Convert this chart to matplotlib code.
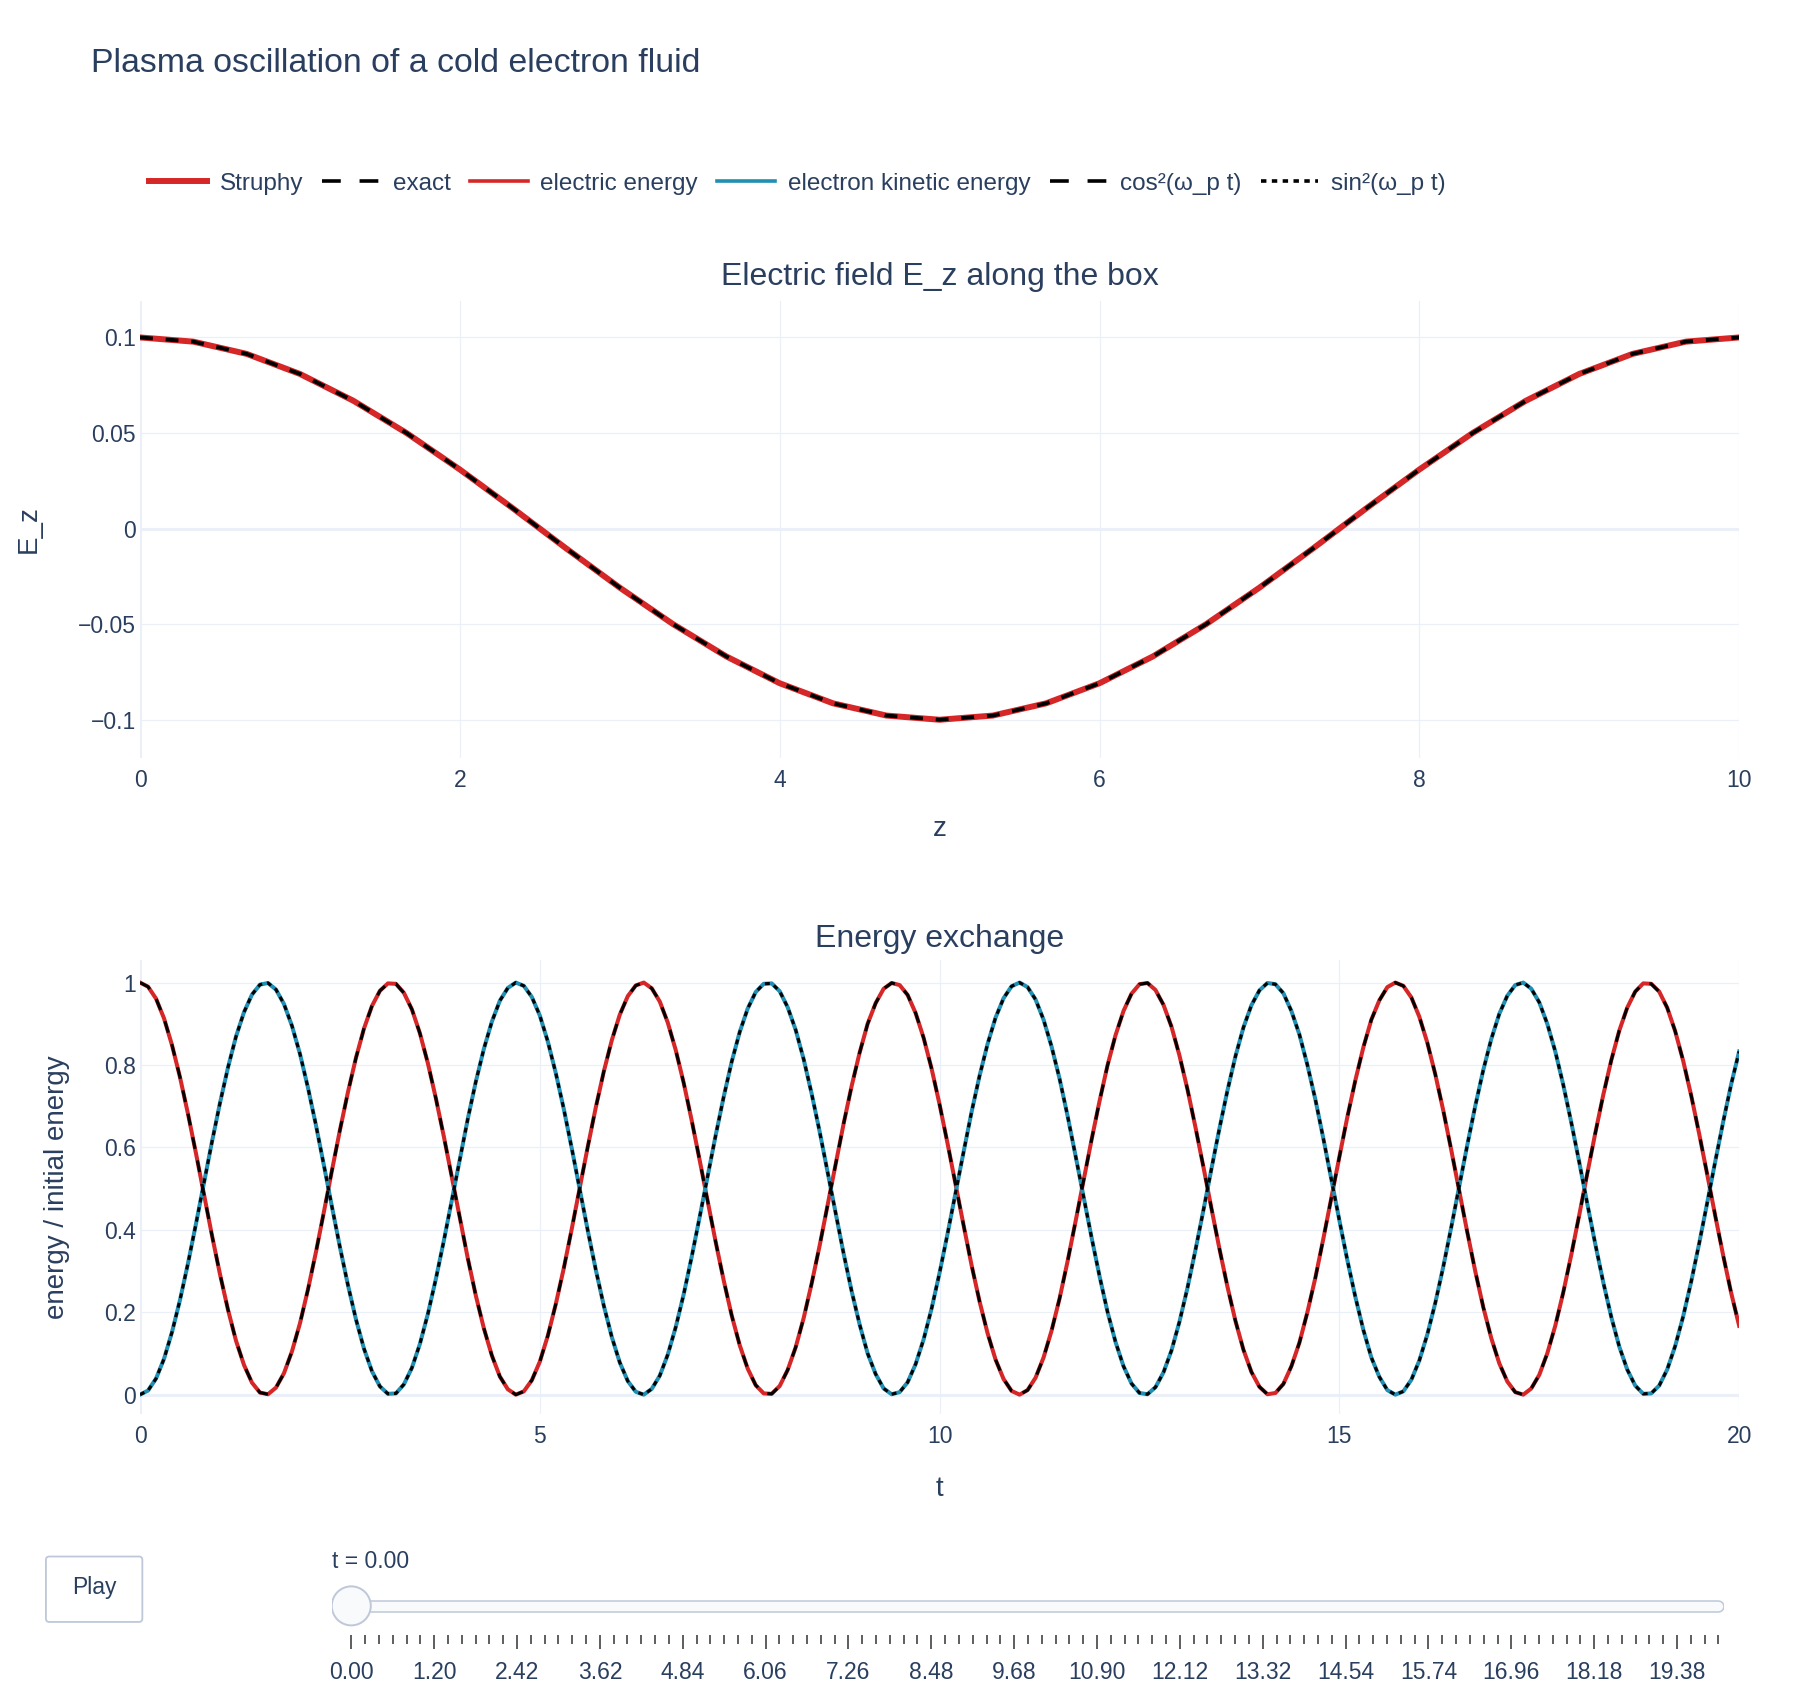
import numpy as np
import matplotlib.pyplot as plt
from matplotlib.lines import Line2D
from matplotlib.patches import FancyBboxPatch, Ellipse

plt.rcParams['font.family'] = ['Liberation Sans', 'DejaVu Sans']

# ---- data ----
z = np.linspace(0, 10, 31)
ez_struphy = [0.1, 0.0978, 0.0914, 0.0809, 0.0669, 0.05, 0.0309, 0.0105, -0.0105, -0.0309,
              -0.05, -0.0669, -0.0809, -0.0914, -0.0978, -0.1, -0.0978, -0.0914, -0.0809, -0.0669,
              -0.05, -0.0309, -0.0105, 0.0105, 0.0309, 0.05, 0.0669, 0.0809, 0.0914, 0.0978, 0.1]
ez_exact = ez_struphy

t = np.linspace(0, 20, 201)
e_electric = [
    1.000, 0.990, 0.961, 0.913, 0.848, 0.770, 0.681, 0.585, 0.485, 0.386,
    0.292, 0.206, 0.131, 0.072, 0.029, 0.005, 0.001, 0.017, 0.052, 0.105,
    0.173, 0.255, 0.346, 0.444, 0.544, 0.642, 0.734, 0.817, 0.888, 0.943,
    0.980, 0.998, 0.997, 0.975, 0.935, 0.877, 0.804, 0.719, 0.626, 0.527,
    0.427, 0.330, 0.240, 0.161, 0.095, 0.044, 0.013, 0.000, 0.008, 0.035,
    0.080, 0.143, 0.220, 0.307, 0.403, 0.502, 0.602, 0.697, 0.784, 0.860,
    0.922, 0.967, 0.993, 1.000, 0.986, 0.954, 0.903, 0.836, 0.756, 0.665,
    0.568, 0.469, 0.370, 0.277, 0.192, 0.120, 0.063, 0.023, 0.003, 0.002,
    0.021, 0.060, 0.115, 0.186, 0.270, 0.362, 0.461, 0.560, 0.658, 0.749,
    0.830, 0.900, 0.950, 0.985, 0.999, 0.994, 0.970, 0.926, 0.866, 0.791,
    0.704, 0.609, 0.510, 0.411, 0.314, 0.226, 0.149, 0.085, 0.038, 0.009,
    0.000, 0.011, 0.041, 0.090, 0.155, 0.233, 0.323, 0.420, 0.519, 0.618,
    0.712, 0.799, 0.872, 0.931, 0.973, 0.996, 0.999, 0.982, 0.946, 0.893,
    0.823, 0.741, 0.649, 0.552, 0.452, 0.354, 0.262, 0.179, 0.109, 0.055,
    0.019, 0.001, 0.004, 0.026, 0.069, 0.126, 0.200, 0.284, 0.379, 0.478,
    0.577, 0.674, 0.763, 0.843, 0.910, 0.957, 0.989, 1.000, 0.992, 0.964,
    0.917, 0.854, 0.777, 0.689, 0.593, 0.493, 0.394, 0.299, 0.212, 0.137,
    0.076, 0.032, 0.006, 0.000, 0.015, 0.048, 0.100, 0.167, 0.248, 0.339,
    0.436, 0.536, 0.634, 0.727, 0.811, 0.883, 0.939, 0.978, 0.998, 0.997,
    0.978, 0.939, 0.882, 0.810, 0.726, 0.633, 0.535, 0.435, 0.338, 0.247,
    0.167]
e_kinetic = [
    0.000, 0.010, 0.039, 0.087, 0.152, 0.230, 0.319, 0.415, 0.515, 0.614,
    0.708, 0.794, 0.869, 0.928, 0.971, 0.995, 0.999, 0.983, 0.948, 0.895,
    0.827, 0.745, 0.654, 0.556, 0.456, 0.358, 0.266, 0.183, 0.112, 0.057,
    0.020, 0.002, 0.003, 0.025, 0.065, 0.123, 0.196, 0.281, 0.374, 0.473,
    0.573, 0.670, 0.760, 0.839, 0.905, 0.956, 0.987, 1.000, 0.992, 0.965,
    0.920, 0.857, 0.780, 0.693, 0.597, 0.498, 0.398, 0.303, 0.216, 0.140,
    0.078, 0.033, 0.007, 0.000, 0.014, 0.046, 0.097, 0.164, 0.244, 0.335,
    0.432, 0.531, 0.630, 0.723, 0.808, 0.880, 0.937, 0.977, 0.997, 0.998,
    0.979, 0.940, 0.885, 0.814, 0.730, 0.638, 0.539, 0.440, 0.342, 0.251,
    0.170, 0.100, 0.050, 0.015, 0.001, 0.006, 0.030, 0.074, 0.134, 0.209,
    0.296, 0.391, 0.490, 0.589, 0.686, 0.774, 0.851, 0.915, 0.962, 0.991,
    1.000, 0.989, 0.959, 0.910, 0.845, 0.767, 0.677, 0.580, 0.481, 0.382,
    0.288, 0.201, 0.128, 0.069, 0.027, 0.004, 0.001, 0.018, 0.054, 0.107,
    0.177, 0.259, 0.351, 0.448, 0.548, 0.646, 0.738, 0.821, 0.891, 0.945,
    0.981, 0.999, 0.996, 0.974, 0.931, 0.874, 0.800, 0.716, 0.621, 0.522,
    0.423, 0.326, 0.237, 0.157, 0.090, 0.043, 0.011, 0.000, 0.008, 0.036,
    0.083, 0.146, 0.223, 0.311, 0.407, 0.507, 0.606, 0.701, 0.788, 0.863,
    0.924, 0.968, 0.994, 1.000, 0.985, 0.952, 0.900, 0.833, 0.752, 0.661,
    0.564, 0.464, 0.366, 0.273, 0.189, 0.117, 0.061, 0.022, 0.002, 0.003,
    0.022, 0.061, 0.118, 0.190, 0.274, 0.367, 0.465, 0.565, 0.662, 0.753,
    0.833]
cos2_exact = e_electric
sin2_exact = e_kinetic

n_frames = 100
slider_labels = ['0.00', '1.20', '2.42', '3.62', '4.84', '6.06', '7.26', '8.48', '9.68',
                 '10.90', '12.12', '13.32', '14.54', '15.74', '16.96', '18.18', '19.38']
label_every = 6

# ---- style ----
RED = '#d62728'
BLUE = '#1f8fb3'
TXT = '#2a3f5f'
GRID = '#ebf0f8'
W, H = 1568.0, 1481.0   # layout units (reference as measured)

fig = plt.figure(figsize=(18, 17), dpi=100)


def box(x0, y0, x1, y1):
    return [x0 / W, 1 - y1 / H, (x1 - x0) / W, (y1 - y0) / H]


def style_axes(ax):
    for s in ax.spines.values():
        s.set_visible(False)
    ax.grid(True, color=GRID, lw=0.9, zorder=0)
    ax.set_axisbelow(True)
    ax.tick_params(length=0, labelsize=16.5, labelcolor=TXT)
    ax.tick_params(axis='x', pad=8)
    ax.tick_params(axis='y', pad=3)


# top panel
ax1 = fig.add_axes(box(122, 262, 1515, 660))
style_axes(ax1)
ax1.set_xlim(0, 10)
ax1.set_ylim(-0.1198, 0.1192)
ax1.set_xticks([0, 2, 4, 6, 8, 10])
ax1.set_yticks([-0.1, -0.05, 0, 0.05, 0.1])
ax1.set_yticklabels(['\u22120.1', '\u22120.05', '0', '0.05', '0.1'])
ax1.axhline(0, color=GRID, lw=2.2, zorder=0.5)
ax1.axvline(0, color=GRID, lw=2.2, zorder=0.5)
ax1.plot(z, ez_struphy, color=RED, lw=4.3, zorder=3)
ax1.plot(z, ez_exact, color='black', lw=2.8, dashes=(3.3, 3.3), zorder=4)

# bottom panel
ax2 = fig.add_axes(box(122, 836, 1515, 1232))
style_axes(ax2)
ax2.set_xlim(0, 20)
ax2.set_ylim(-0.0474, 1.0557)
ax2.set_xticks([0, 5, 10, 15, 20])
ax2.set_yticks([0, 0.2, 0.4, 0.6, 0.8, 1])
ax2.set_yticklabels(['0', '0.2', '0.4', '0.6', '0.8', '1'])
ax2.axhline(0, color=GRID, lw=2.2, zorder=0.5)
ax2.axvline(0, color=GRID, lw=2.2, zorder=0.5)
ax2.plot(t, e_electric, color=RED, lw=2.9, zorder=3)
ax2.plot(t, e_kinetic, color=BLUE, lw=2.9, zorder=3)
ax2.plot(t, cos2_exact, color='black', lw=2.2, dashes=(3.9, 3.9), zorder=4)
ax2.plot(t, sin2_exact, color='black', lw=2.2, dashes=(1.6, 1.6), zorder=4)

# overlay in layout units for texts and controls
ov = fig.add_axes([0, 0, 1, 1])
ov.set_xlim(0, W)
ov.set_ylim(H, 0)
ov.axis('off')

ov.text(79, 55, 'Plasma oscillation of a cold electron fluid', fontsize=24.4, color=TXT,
        ha='left', va='center')
ov.text(818.5, 241, 'Electric field E_z along the box', fontsize=23, color=TXT,
        ha='center', va='center')
ov.text(818.5, 818, 'Energy exchange', fontsize=23, color=TXT, ha='center', va='center')
ov.text(818.5, 722, 'z', fontsize=20, color=TXT, ha='center', va='center')
ov.text(818.5, 1297, 't', fontsize=20, color=TXT, ha='center', va='center')
ov.text(25, 461, 'E_z', fontsize=20, color=TXT, ha='center', va='center', rotation=90)
ov.text(50, 1034, 'energy / initial energy', fontsize=20, color=TXT, ha='center',
        va='center', rotation=90)

# legend
handles = [
    Line2D([], [], color=RED, lw=4.3),
    Line2D([], [], color='black', lw=2.6, dashes=(5.2, 5.2)),
    Line2D([], [], color=RED, lw=2.6),
    Line2D([], [], color=BLUE, lw=2.6),
    Line2D([], [], color='black', lw=2.6, dashes=(5.2, 5.2)),
    Line2D([], [], color='black', lw=2.6, dashes=(1.5, 1.5)),
]
labels = ['Struphy', 'exact', 'electric energy', 'electron kinetic energy',
          'cos\u00b2(\u03c9_p t)', 'sin\u00b2(\u03c9_p t)']
leg = fig.legend(handles, labels, loc='center left', bbox_to_anchor=(130 / W, 1 - 160 / H),
                 ncol=6, frameon=False, fontsize=17.5, handlelength=2.37, handletextpad=0.52,
                 columnspacing=0.8, borderpad=0, borderaxespad=0)
for txt in leg.get_texts():
    txt.set_color(TXT)

# play button
ov.add_patch(FancyBboxPatch((40, 1356), 84, 57, boxstyle='round,pad=0,rounding_size=3',
                            fc='white', ec='#bec8d9', lw=1.3))
ov.text(82, 1383, 'Play', fontsize=16.5, color=TXT, ha='center', va='center')

# slider, in frame-index units
px_per_frame = 12.03
x_left = -(306 - 289) / px_per_frame
x_right = (1502 - 306) / px_per_frame
axs = fig.add_axes(box(289, 1340, 1502, 1470))
axs.set_xlim(x_left, x_right)
axs.set_ylim(1470, 1340)
axs.axis('off')
axs.plot([x_left + 5 / px_per_frame, x_right - 5 / px_per_frame], [1399, 1399],
         color='#bec8d9', lw=9.0, solid_capstyle='round')
axs.plot([x_left + 5 / px_per_frame, x_right - 5 / px_per_frame], [1399, 1399],
         color='#f8fafc', lw=6.8, solid_capstyle='round')
axs.add_patch(Ellipse((0, 1399), 34 / px_per_frame, 34, fc='#f8fafc', ec='#bec8d9', lw=1.4,
                      zorder=5))
frames = np.arange(n_frames)
major = frames % label_every == 0
axs.vlines(frames[~major], 1424, 1432, color='#333333', lw=1.1)
axs.vlines(frames[major], 1424, 1437, color='#333333', lw=1.1)
for i, lab in zip(frames[major], slider_labels):
    axs.text(i, 1457, lab, fontsize=16.5, color=TXT, ha='center', va='center')
axs.text(x_left, 1360, 't = 0.00', fontsize=16.5, color=TXT, ha='left', va='center')

fig.savefig('out.png', dpi=100, facecolor='white')
